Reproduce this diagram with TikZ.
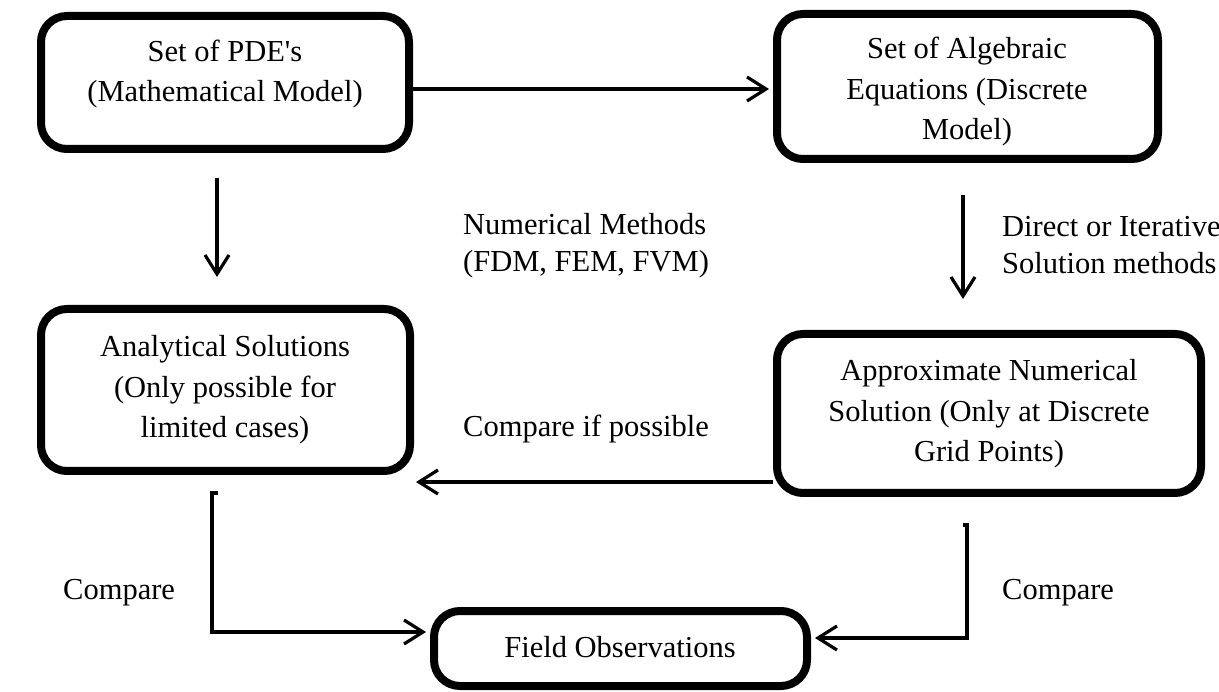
\documentclass[tikz,border=0pt]{standalone}
\usepackage{fontspec}
\setmainfont{Liberation Serif}
\usetikzlibrary{arrows.meta}
\begin{document}
\begin{tikzpicture}[x=1pt,y=-1pt,
  box/.style={draw, line width=8pt, rounded corners=26pt, inner sep=0pt},
  txt/.style={align=center, font=\fontsize{30.5}{40.5}\selectfont, inner sep=0pt},
  lbl/.style={align=left, anchor=west, font=\fontsize{30.5}{37}\selectfont, inner sep=0pt},
  arr/.style={line width=3.2pt, -{Straight Barb[length=19pt,width=24pt,line width=3.2pt]}},
  ln/.style={line width=3.2pt}]
\useasboundingbox (0,0) rectangle (1219,692);
\node[box, minimum width=368pt, minimum height=133pt] (pde) at (225,82.5) {};
\node[box, minimum width=381pt, minimum height=145pt] (alg) at (967.5,86.5) {};
\node[box, minimum width=369pt, minimum height=162pt] (ana) at (225.5,390) {};
\node[box, minimum width=424pt, minimum height=159pt] (apx) at (989,413.5) {};
\node[box, minimum width=373pt, minimum height=75pt] (fld) at (620.5,648.5) {};

\node[txt] (tpde) at (225,74) {Set of PDE\textquotesingle s\\(Mathematical Model)};
\node[txt] (talg) at (967,92) {Set of Algebraic\\Equations (Discrete\\Model)};
\node[txt] (tana) at (225,390) {Analytical Solutions\\(Only possible for\\limited cases)};
\node[txt] (tapx) at (989,414) {Approximate Numerical\\Solution (Only at Discrete\\Grid Points)};
\node[txt] (tfld) at (620,647) {Field Observations};

\node[lbl] (lnum) at (463,246) {Numerical Methods\\(FDM, FEM, FVM)};
\node[lbl] (ldir) at (1002,245) {Direct or Iterative\\Solution methods};
\node[lbl] (lcmp) at (463,429) {Compare if possible};
\node[lbl] (lc1) at (63,593) {Compare};
\node[lbl] (lc2) at (1002,593) {Compare};

\coordinate (d1a) at (217,178);
\coordinate (d1b) at (217,277);
\coordinate (d2a) at (963,195);
\coordinate (d2b) at (963,299);
\coordinate (bl) at (416,482);
\coordinate (e1a) at (218,493);
\coordinate (e1b) at (212,493);
\coordinate (e1c) at (212,632);
\coordinate (e2a) at (963,525);
\coordinate (e2b) at (967,525);
\coordinate (e2c) at (967,638);

\draw[arr, shorten >=4pt] (pde.east |- 0,89) -- (alg.west |- 0,89);
\draw[arr] (d1a) -- (d1b);
\draw[arr] (d2a) -- (d2b);
\draw[arr] (apx.west |- bl) -- (bl);
\draw[arr, shorten >=4pt] (e1a) -- (e1b) -- (e1c) -- (fld.west |- e1c);
\draw[arr, shorten >=4pt] (e2a) -- (e2b) -- (e2c) -- (fld.east |- e2c);
\end{tikzpicture}
\end{document}
